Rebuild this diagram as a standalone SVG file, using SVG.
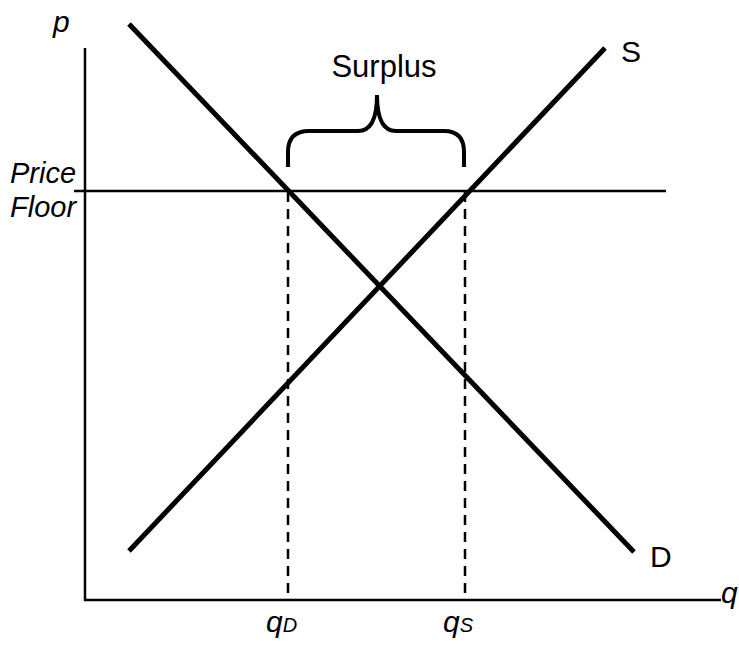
<svg xmlns="http://www.w3.org/2000/svg" width="739" height="648" viewBox="0 0 739 648">
<style>
.ax{stroke:#000;stroke-width:2.5;fill:none}
.curve{stroke:#000;stroke-width:5;fill:none}
.dash{stroke:#000;stroke-width:2.5;stroke-dasharray:10,7;fill:none}
.brace{stroke:#000;stroke-width:4;fill:none}
text{font-family:"Liberation Sans",Arial,sans-serif;fill:#000}
.it{font-style:italic}
</style>
<rect width="739" height="648" fill="#fff"/>
<g id="connectors">
<line class="ax" x1="85" y1="48" x2="85" y2="601"/>
<line class="ax" x1="84" y1="600" x2="721" y2="600"/>
<line class="ax" x1="74" y1="191" x2="666" y2="191"/>
<line class="dash" x1="288" y1="192" x2="288" y2="600"/>
<line class="dash" x1="465" y1="192" x2="465" y2="600"/>
</g>
<g id="demand">
<line class="curve" x1="129" y1="24" x2="634" y2="552"/>
<text x="650" y="567" font-size="30">D</text>
</g>
<g id="supply">
<line class="curve" x1="129" y1="551" x2="605" y2="48"/>
<text x="621" y="62" font-size="30">S</text>
</g>
<g id="surplus">
<path class="brace" d="M288,167 L288,152 Q288,131 309,131 L358,131 Q377,131 377,95 Q377,131 396,131 L444,131 Q464,131 464,152 L464,167"/>
<text x="384" y="77" font-size="31" text-anchor="middle">Surplus</text>
</g>
<g id="labels">
<text class="it" x="53" y="32" font-size="30">p</text>
<text class="it" x="10" y="183" font-size="29">Price</text>
<text class="it" x="10" y="217" font-size="29">Floor</text>
<text class="it" x="721" y="603" font-size="30">q</text>
<text class="it" x="266" y="632" font-size="30">q<tspan font-size="20">D</tspan></text>
<text class="it" x="443" y="632" font-size="30">q<tspan font-size="20">S</tspan></text>
</g>
</svg>
